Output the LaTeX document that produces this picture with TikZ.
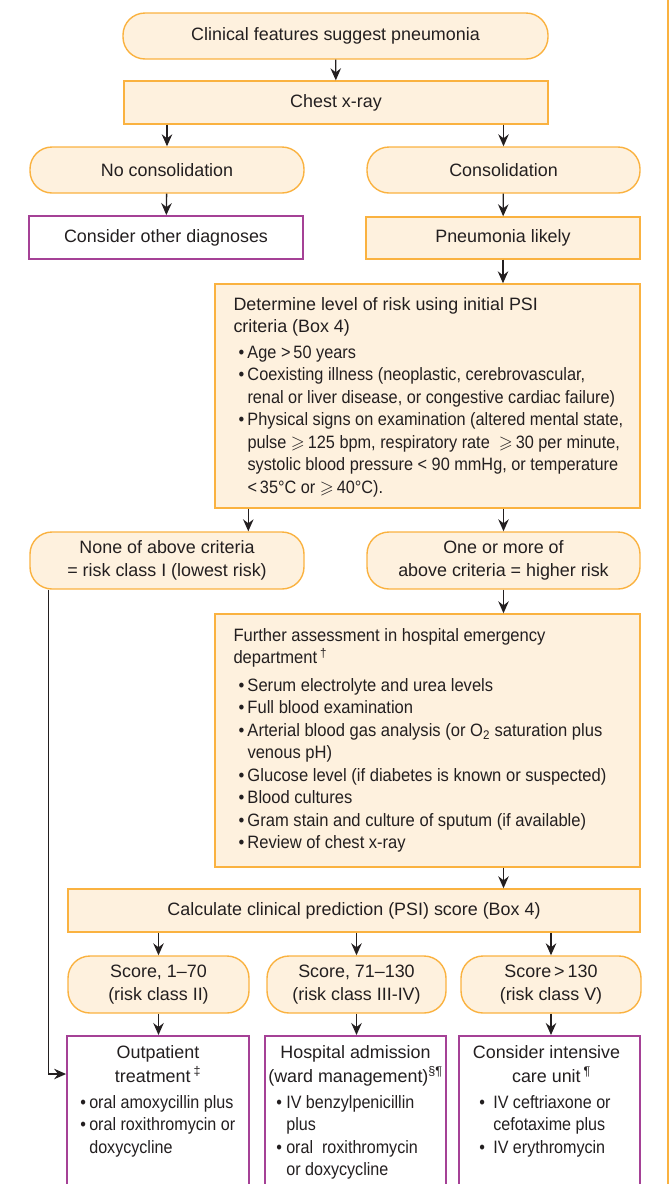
\documentclass[tikz,border=0pt]{standalone}
\usepackage{fontspec}
\usepackage{amssymb}
\setmainfont{Liberation Sans}
\newfontfamily\condfont[FakeStretch=0.9]{Liberation Sans}
\newfontfamily\critfont[FakeStretch=0.91]{Liberation Sans}
\newfontfamily\furtherfont[FakeStretch=0.925]{Liberation Sans}
\usetikzlibrary{arrows.meta,calc}
\definecolor{boxfill}{RGB}{254,241,222}
\definecolor{boxline}{RGB}{250,178,64}
\definecolor{purp}{RGB}{165,65,150}
\definecolor{ink}{RGB}{35,31,32}
\newcommand\mybul{\hspace*{5pt}\makebox[9pt][l]{•}}
\newcommand\bindent{\hspace*{14pt}}
\newcommand\critbul{\critfont\mybul}
\newcommand\critind{\critfont\bindent}
\newcommand\obul[1]{\makebox[#1][l]{•}}
\tikzset{
 basefont/.style={inner sep=0pt, font=\fontsize{17.9}{22.5}\selectfont, text=ink},
 roundbox/.style={basefont, draw=boxline, fill=boxfill, line width=1.4pt, rounded corners=22pt, align=center},
 sqbox/.style={basefont, draw=boxline, fill=boxfill, line width=1.4pt, align=center},
 purpbox/.style={basefont, draw=purp, fill=white, line width=1.8pt, align=center},
 txt/.style={basefont, align=left},
 arr/.style={draw=ink, line width=1.3pt, -{Stealth[length=12pt,width=10.5pt,inset=4pt]}},
 edgeline/.style={draw=boxline, line width=1.5pt},
}
\begin{document}
\begin{tikzpicture}[x=1pt,y=-1pt]
\useasboundingbox (0,0) rectangle (669,1184);
\clip (0,0) rectangle (669,1184);
\coordinate (rt) at (668,0);
\coordinate (rb) at (668,1184);
\draw[edgeline] (rt) -- (rb);

\node[roundbox, minimum width=425pt, minimum height=46pt] (top) at (335.5,36) {Clinical features suggest pneumonia};
\node[sqbox, minimum width=424pt, minimum height=43pt] (chest) at (336,102.5) {Chest x-ray};
\node[roundbox, minimum width=274pt, minimum height=46pt] (nocons) at (167,170) {No consolidation};
\node[roundbox, minimum width=273pt, minimum height=46pt] (cons) at (503.5,170) {Consolidation};
\node[purpbox, minimum width=274pt, minimum height=43pt] (other) at (166,237.5) {Consider other diagnoses};
\node[sqbox, minimum width=274pt, minimum height=42pt] (pn) at (503,238) {Pneumonia likely};

\node[sqbox, minimum width=425pt, minimum height=224pt] (crit) at (427.5,396) {};
\node[txt, anchor=west] (crittext) at ([xshift=19pt,yshift=-1pt]crit.west) {Determine level of risk using initial PSI\\
criteria (Box 4)\\[3pt]
\critbul Age >\,50 years\\
\critbul Coexisting illness (neoplastic, cerebrovascular,\\
\critind renal or liver disease, or congestive cardiac failure)\\
\critbul Physical signs on examination (altered mental state,\\
\critind pulse $\geqslant$\,125 bpm, respiratory rate \ $\geqslant$\,30 per minute,\\
\critind systolic blood pressure < 90 mmHg, or temperature\\
\critind <\,35°C or $\geqslant$\,40°C).};

\node[roundbox, minimum width=274pt, minimum height=57pt] (none) at (167,560.5) {None of above criteria\\= risk class I (lowest risk)};
\node[roundbox, minimum width=273pt, minimum height=57pt] (one) at (503.5,560.5) {One or more of\\above criteria = higher risk};

\node[sqbox, minimum width=425pt, minimum height=253pt] (further) at (427.5,740.5) {};
\node[txt, anchor=west, font=\furtherfont\fontsize{17.9}{22.5}\selectfont] (furthertext) at ([xshift=19pt]further.west) {Further assessment in hospital emergency\\
department\,\textsuperscript{†}\\[5pt]
\mybul Serum electrolyte and urea levels\\
\mybul Full blood examination\\
\mybul Arterial blood gas analysis (or O\textsubscript{2} saturation plus\\
\bindent venous pH)\\
\mybul Glucose level (if diabetes is known or suspected)\\
\mybul Blood cultures\\
\mybul Gram stain and culture of sputum (if available)\\
\mybul Review of chest x-ray};

\node[sqbox, minimum width=572pt, minimum height=43pt] (calc) at (354,910.5) {Calculate clinical prediction (PSI) score (Box 4)};

\node[roundbox, minimum width=181pt, minimum height=57pt] (s1) at (158.5,984.5) {Score, 1–70\\(risk class II)};
\node[roundbox, minimum width=179pt, minimum height=57pt] (s2) at (356.5,984.5) {Score, 71–130\\(risk class III-IV)};
\node[roundbox, minimum width=180pt, minimum height=57pt] (s3) at (551,984.5) {Score\,>\,130\\(risk class V)};

\node[purpbox, minimum width=182pt, minimum height=170pt, anchor=north] (o1) at (158,1035) {};
\node[purpbox, minimum width=181pt, minimum height=170pt, anchor=north] (o2) at (355.5,1035) {};
\node[purpbox, minimum width=181pt, minimum height=170pt, anchor=north] (o3) at (549.5,1035) {};

\node[basefont, align=center, anchor=north, font=\fontsize{17.9}{24}\selectfont] (o1h) at ([yshift=-10pt]o1.north) {Outpatient\\treatment\,\textsuperscript{‡}};
\node[basefont, align=center, anchor=north, font=\fontsize{17.9}{24}\selectfont] (o2h) at ([yshift=-10pt]o2.north) {Hospital admission\\(ward management)\textsuperscript{§¶}};
\node[basefont, align=center, anchor=north, font=\fontsize{17.9}{24}\selectfont] (o3h) at ([yshift=-10pt,xshift=-3pt]o3.north) {Consider intensive\\\hspace*{10pt}care unit\,\textsuperscript{¶}};

\node[basefont, align=left, anchor=north west, font=\condfont\fontsize{17.9}{22.5}\selectfont] (o1b) at ([xshift=14pt,yshift=-60pt]o1.north west) {\obul{9pt}oral amoxycillin plus\\\obul{9pt}oral roxithromycin or\\\hspace*{9pt}doxycycline};
\node[basefont, align=left, anchor=north west, font=\condfont\fontsize{17.9}{22.5}\selectfont] (o2b) at ([xshift=12pt,yshift=-60pt]o2.north west) {\obul{10pt}IV benzylpenicillin\\\hspace*{10pt}plus\\\obul{10pt}oral\ \ roxithromycin\\\hspace*{10pt}or doxycycline};
\node[basefont, align=left, anchor=north west, font=\condfont\fontsize{17.9}{22.5}\selectfont] (o3b) at ([xshift=21pt,yshift=-60pt]o3.north west) {\obul{14pt}IV ceftriaxone or\\\hspace*{14pt}cefotaxime plus\\\obul{14pt}IV erythromycin};

\draw[arr] (top) -- (chest);
\draw[arr] (chest.south -| nocons.north) -- (nocons.north);
\draw[arr] (chest.south -| cons.north) -- (cons.north);
\draw[arr] (nocons) -- (other);
\draw[arr] (cons) -- (pn);
\draw[arr] (pn.south) -- (pn.south |- crit.north);
\draw[arr] ([xshift=34pt]crit.south west) -- ([xshift=34pt]crit.south west |- none.north);
\draw[arr] (crit.south -| one.north) -- (one.north);
\draw[arr] (one.south) -- (one.south |- further.north);
\draw[arr] (further.south -| one.south) -- (calc.north -| one.south);
\draw[arr] (calc.south -| s1.north) -- (s1.north);
\draw[arr] (calc.south -| s2.north) -- (s2.north);
\draw[arr] (calc.south -| s3.north) -- (s3.north);
\draw[arr] (s1.south) -- (s1.south |- o1.north);
\draw[arr] (s2.south) -- (s2.south |- o2.north);
\draw[arr] (s3.south) -- (s3.south |- o3.north);
\draw[arr] ([xshift=19pt]none.south west) |- ([yshift=-39pt]o1.north west);
\end{tikzpicture}
\end{document}
